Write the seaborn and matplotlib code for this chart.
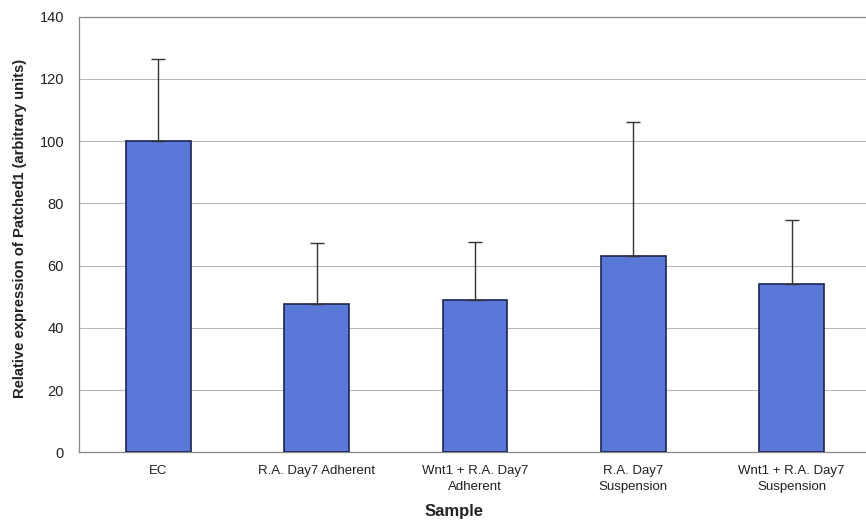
import matplotlib
matplotlib.use("Agg")
import matplotlib.pyplot as plt
import seaborn as sns
import pandas as pd
import numpy as np

categories = ["EC", "R.A. Day7 Adherent", "Wnt1 + R.A. Day7\nAdherent",
              "R.A. Day7\nSuspension", "Wnt1 + R.A. Day7\nSuspension"]
values = [100.0, 47.8, 49.0, 63.0, 54.1]
upper_err = [26.5, 19.6, 18.7, 43.3, 20.5]
yticks = [0, 20, 40, 60, 80, 100, 120, 140]

sns.set_theme(style="white")
plt.rcParams['font.family'] = ['Liberation Sans', 'DejaVu Sans']

df = pd.DataFrame({"Sample": categories, "Value": values})

fig = plt.figure(figsize=(8.66, 5.2), dpi=100)
ax = fig.add_axes([0.0916, 0.130, 0.9084, 0.838])

sns.barplot(data=df, x="Sample", y="Value", color="#5a78d8", saturation=1,
            width=0.41, edgecolor="#1c2452", linewidth=1.2, errorbar=None,
            ax=ax, zorder=3)

ax.errorbar(x=np.arange(len(values)), y=values,
            yerr=[np.zeros(len(values)), upper_err], fmt="none",
            ecolor="#333333", elinewidth=1.0, capsize=5, capthick=1.0, zorder=4)

ax.set_ylim(0, 140)
ax.set_xlim(-0.5, 4.47)
ax.set_yticks(yticks)
ax.yaxis.grid(True, color="#b8b8b8", linewidth=0.8, zorder=0)
ax.set_axisbelow(True)

for s in ["left", "bottom", "top"]:
    ax.spines[s].set_visible(True)
    ax.spines[s].set_color("#888888")
    ax.spines[s].set_linewidth(0.9)
ax.spines["right"].set_visible(False)

ax.tick_params(axis="y", labelsize=10.5, colors="#222222", length=0, pad=11)
ax.tick_params(axis="x", labelsize=9.5, colors="#222222", length=0, pad=9)
for lab in ax.get_xticklabels():
    lab.set_linespacing(1.45)

ax.set_xlabel("Sample", fontsize=12, fontweight="bold", color="#222222")
ax.xaxis.set_label_coords(0.476, -0.118)
ax.set_ylabel("Relative expression of Patched1 (arbitrary units)", fontsize=10.6,
              fontweight="bold", color="#222222")
ax.yaxis.set_label_coords(-0.067, 0.515)

fig.savefig("out.png", dpi=100)
